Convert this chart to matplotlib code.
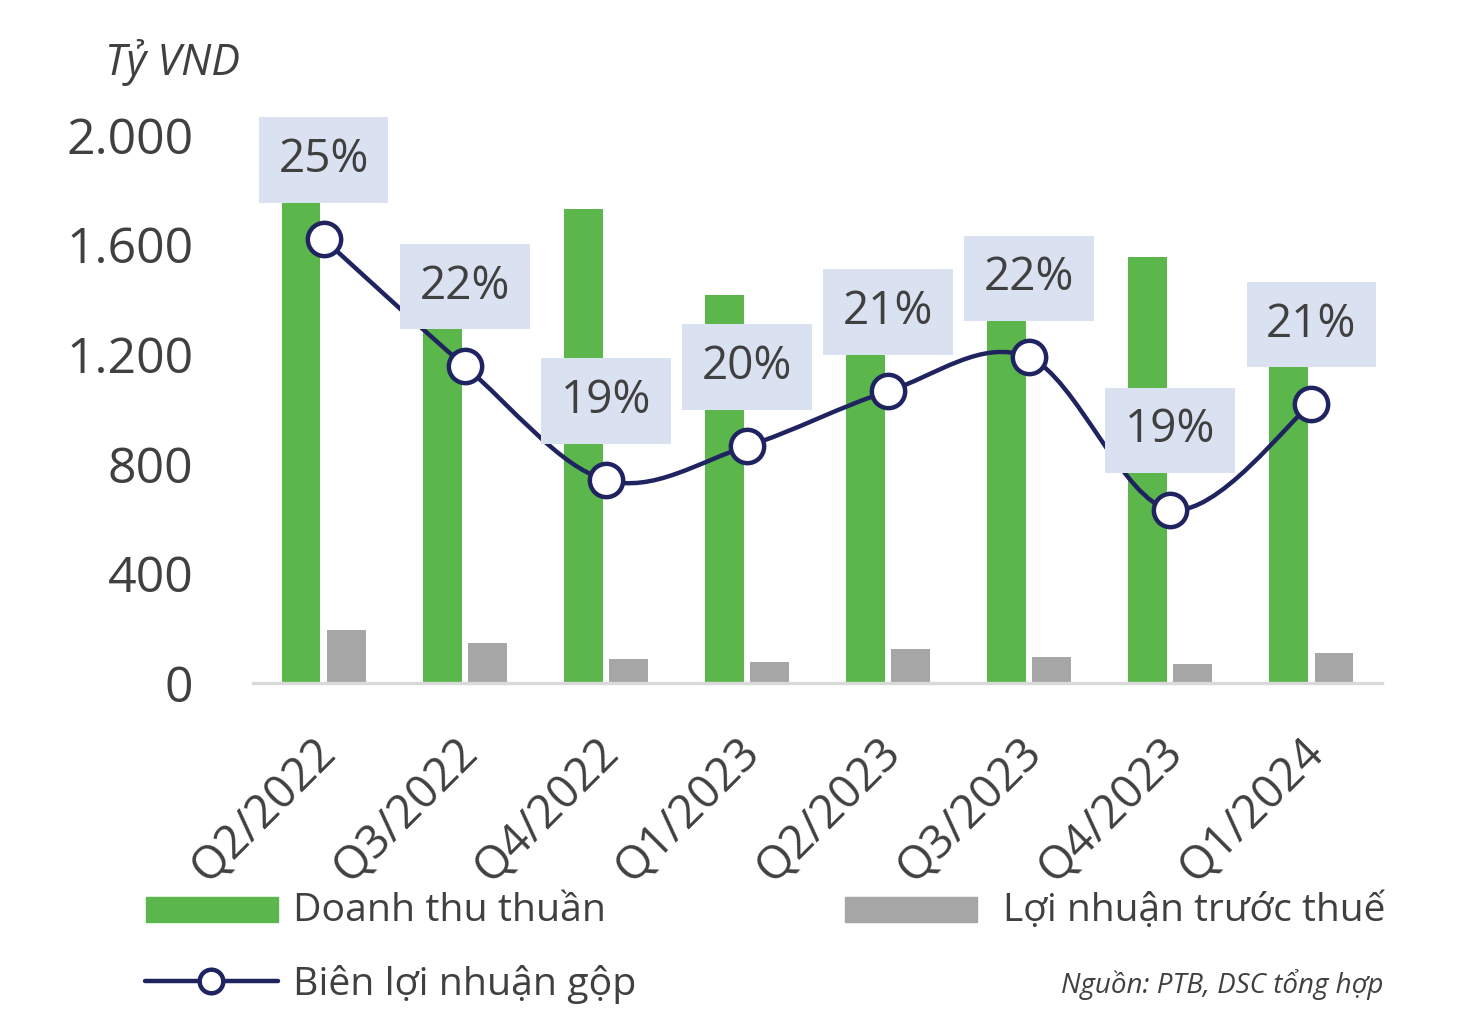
import numpy as np
import matplotlib.pyplot as plt
from matplotlib.path import Path
from matplotlib.patches import PathPatch, Rectangle
from matplotlib.lines import Line2D
from matplotlib.transforms import ScaledTranslation

plt.rcParams['font.family'] = ['Open Sans', 'DejaVu Sans']

# --- data ---
quarters = ['Q2/2022', 'Q3/2022', 'Q4/2022', 'Q1/2023',
            'Q2/2023', 'Q3/2023', 'Q4/2023', 'Q1/2024']
revenue = [1780, 1320, 1730, 1415, 1220, 1340, 1555, 1170]   # Doanh thu thuan
pretax = [193, 146, 88, 77, 124, 95, 69, 109]                # Loi nhuan truoc thue
gross_margin = [25.0, 22.0, 19.3, 20.1, 21.4, 22.2, 18.6, 21.1]  # %

GREEN = '#5bb74c'
GREY = '#a6a6a6'
NAVY = '#1f2360'
TXT = '#404040'
BOX = '#dae1f0'

fig = plt.figure(figsize=(14.76, 10.22), dpi=100)
ax = fig.add_axes([253 / 1476, 1 - 683 / 1022, (1382 - 253) / 1476, (683 - 135) / 1022])

x = np.arange(len(quarters))
ax.bar(x - 0.16, revenue, width=0.275, color=GREEN, zorder=2)
ax.bar(x + 0.16, pretax, width=0.275, color=GREY, zorder=2)

ax.set_xlim(-0.5, len(quarters) - 0.5)
ax.set_ylim(0, 2000)
ax.set_yticks([0, 400, 800, 1200, 1600, 2000])
ax.set_yticklabels(['0', '400', '800', '1.200', '1.600', '2.000'])
ax.tick_params(axis='y', length=0, pad=43, labelsize=36, labelcolor=TXT)
ax.set_xticks(x)
ax.set_xticklabels(quarters, rotation=45, ha='right', va='top',
                   rotation_mode='anchor', fontsize=33, color=TXT)
ax.tick_params(axis='x', length=0, pad=34)
for lbl in ax.get_xticklabels():
    lbl.set_transform(lbl.get_transform() + ScaledTranslation(-0.1, 0, fig.dpi_scale_trans))

for s in ['top', 'right', 'left']:
    ax.spines[s].set_visible(False)
ax.spines['bottom'].set_color('#d9d9d9')
ax.spines['bottom'].set_linewidth(2.4)
ax.spines['bottom'].set_zorder(3)

# --- margin line on hidden secondary axis, smoothed as in Excel ---
ax2 = ax.twinx()
ax2.set_ylim(14.5, 27.46)
ax2.axis('off')

pts = np.column_stack([x, gross_margin]).astype(float)
verts = [pts[0]]
codes = [Path.MOVETO]
n = len(pts)
for i in range(n - 1):
    p0 = pts[max(i - 1, 0)]
    p1 = pts[i]
    p2 = pts[i + 1]
    p3 = pts[min(i + 2, n - 1)]
    c1 = p1 + (p2 - p0) / 6
    c2 = p2 - (p3 - p1) / 6
    verts += [c1, c2, p2]
    codes += [Path.CURVE4] * 3
ax2.add_patch(PathPatch(Path(verts, codes), facecolor='none', edgecolor=NAVY,
                        lw=3.2, zorder=4, capstyle='round'))
ax2.plot(x, gross_margin, linestyle='none', marker='o', markersize=24,
         markerfacecolor='white', markeredgecolor=NAVY, markeredgewidth=3.2, zorder=5)

for xi, m in zip(x, gross_margin):
    ax2.annotate(f'{m:.0f}%', (xi, m), xytext=(0, 57), textcoords='offset points',
                 ha='center', va='center', fontsize=33, color=TXT, zorder=6,
                 bbox=dict(boxstyle='square,pad=0.43', fc=BOX, ec='none'))

# --- titles / legend ---
fig.text(105 / 1476, 1 - 62 / 1022, 'Tỷ VND', fontsize=31, style='italic',
         color=TXT, ha='left', va='center')

fig.add_artist(Rectangle((146 / 1476, 1 - 922 / 1022), 132 / 1476, 25 / 1022,
                         transform=fig.transFigure, color=GREEN))
fig.text(293 / 1476, 1 - 911 / 1022, 'Doanh thu thuần', fontsize=28.3, color=TXT,
         ha='left', va='center')
fig.add_artist(Rectangle((845 / 1476, 1 - 922 / 1022), 132 / 1476, 25 / 1022,
                         transform=fig.transFigure, color=GREY))
fig.text(1385 / 1476, 1 - 911 / 1022, 'Lợi nhuận trước thuế', fontsize=28, color=TXT,
         ha='right', va='center')

fig.add_artist(Line2D([145 / 1476, 278 / 1476], [1 - 981 / 1022] * 2,
                      transform=fig.transFigure, color=NAVY, lw=3.2,
                      solid_capstyle='round'))
fig.add_artist(Line2D([211 / 1476], [1 - 981 / 1022], transform=fig.transFigure,
                      marker='o', markersize=17, markerfacecolor='white',
                      markeredgecolor=NAVY, markeredgewidth=3.2, linestyle='none'))
fig.text(293 / 1476, 1 - 984 / 1022, 'Biên lợi nhuận gộp', fontsize=28.3, color=TXT,
         ha='left', va='center')
fig.text(1383 / 1476, 1 - 984 / 1022, 'Nguồn: PTB, DSC tổng hợp', fontsize=20,
         style='italic', color=TXT, ha='right', va='center')

fig.savefig('out.png', dpi=100, facecolor='white')
